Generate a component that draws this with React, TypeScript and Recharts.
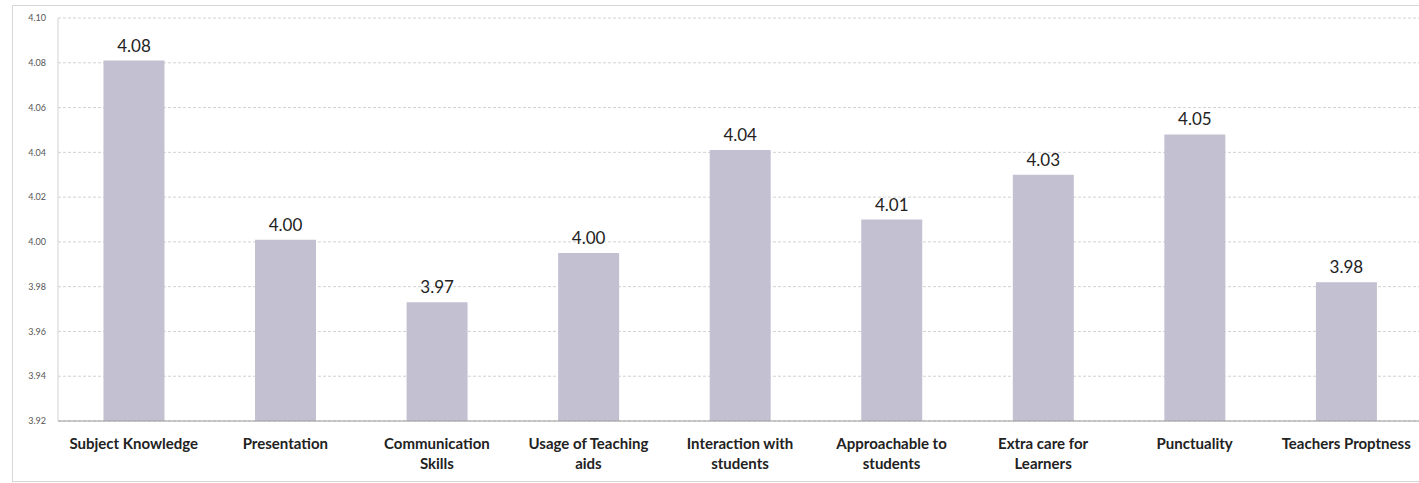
import { BarChart, Bar, XAxis, YAxis, CartesianGrid, LabelList } from "recharts";

const categories = [
  "Subject Knowledge",
  "Presentation",
  "Communication Skills",
  "Usage of Teaching aids",
  "Interaction with students",
  "Approachable to students",
  "Extra care for Learners",
  "Punctuality",
  "Teachers Proptness",
];

// bar heights, labels as printed
const scores = [4.081, 4.001, 3.973, 3.995, 4.041, 4.01, 4.03, 4.048, 3.982];
const scoreLabels = ["4.08", "4.00", "3.97", "4.00", "4.04", "4.01", "4.03", "4.05", "3.98"];

// how the axis labels wrap in the original
const tickLines: string[][] = [
  ["Subject Knowledge"],
  ["Presentation"],
  ["Communication", "Skills"],
  ["Usage of Teaching", "aids"],
  ["Interaction with", "students"],
  ["Approachable to", "students"],
  ["Extra care for", "Learners"],
  ["Punctuality"],
  ["Teachers Proptness"],
];

const yTicks = [3.92, 3.94, 3.96, 3.98, 4.0, 4.02, 4.04, 4.06, 4.08, 4.1];

const data = categories.map((name, i) => ({
  name,
  value: scores[i],
  label: scoreLabels[i],
}));

const FONT = "Lato, 'Open Sans', sans-serif";

function CategoryTick(props: any) {
  const { x, y, payload } = props;
  const lines = tickLines[payload.index] || [payload.value];
  return (
    <text
      x={x}
      y={y}
      textAnchor="middle"
      fontFamily={FONT}
      fontSize={15}
      fontWeight={700}
      fill="#222"
    >
      {lines.map((l, i) => (
        <tspan key={i} x={x} dy={20}>
          {l}
        </tspan>
      ))}
    </text>
  );
}

export default function App() {
  return (
    <div
      style={{
        position: "absolute",
        left: 0,
        top: 0,
        width: 1419,
        height: 483,
        overflow: "hidden",
        background: "#fff",
      }}
    >
      <div
        style={{
          position: "absolute",
          left: 12,
          top: 5,
          width: 1420,
          height: 475,
          border: "1px solid #d6d6d6",
        }}
      />
      <div style={{ position: "absolute", left: 0, top: 0 }}>
        <BarChart
          width={1422}
          height={483}
          data={data}
          margin={{ top: 18, right: 0, bottom: 0, left: 0 }}
          barCategoryGap="30%"
        >
          <CartesianGrid vertical={false} stroke="#d2d2d2" strokeDasharray="3 2" />
          <XAxis
            dataKey="name"
            interval={0}
            height={62}
            tickLine={false}
            axisLine={{ stroke: "#9a9a9a" }}
            tick={<CategoryTick />}
          />
          <YAxis
            type="number"
            domain={[3.92, 4.1]}
            ticks={yTicks}
            width={58}
            tickSize={0}
            tickMargin={12}
            axisLine={{ stroke: "#d2d2d2" }}
            tickFormatter={(v: number) => v.toFixed(2)}
            tick={{ fontSize: 9, fill: "#555", fontFamily: FONT }}
            allowDataOverflow
          />
          <Bar dataKey="value" fill="#c3c1d1" isAnimationActive={false}>
            <LabelList
              dataKey="label"
              position="top"
              offset={9}
              fill="#222"
              fontSize={17}
              fontFamily={FONT}
            />
          </Bar>
        </BarChart>
      </div>
    </div>
  );
}
